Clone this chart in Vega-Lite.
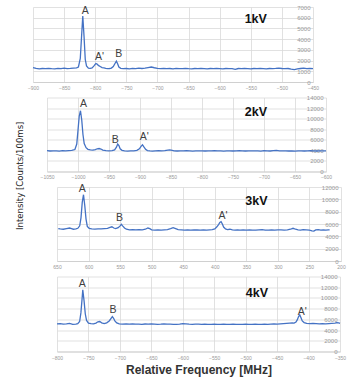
{
"$schema":"https://vega.github.io/schema/vega-lite/v6.json",
"padding":{"left":14,"top":4,"right":2,"bottom":2},
"spacing":4.5,
"title":{"text":"Intensity [Counts/100ms]","orient":"left","anchor":"middle","fontSize":9.5,"font":"Liberation Sans Narrow, DejaVu Sans Condensed, Liberation Sans, sans-serif","fontWeight":"normal","color":"#222222","offset":3,"dx":14},
"config":{"view":{"stroke":null},"axis":{"gridColor":"#d9d9d9","gridWidth":0.8,"labelColor":"#999999","labelFont":"Liberation Sans","domainColor":"#d0d0d0","ticks":false,"tickSize":0,"labelFlush":false,"labelOverlap":false,"format":"d"}},
"datasets":{
"p1":[{"f":-900,"v":1350},{"f":-895,"v":1270},{"f":-890,"v":1230},{"f":-885,"v":1260},{"f":-880,"v":1240},{"f":-875,"v":1280},{"f":-870,"v":1250},{"f":-865,"v":1230},{"f":-860,"v":1270},{"f":-855,"v":1250},{"f":-850,"v":1290},{"f":-845,"v":1250},{"f":-840,"v":1270},{"f":-835,"v":1300},{"f":-830,"v":1320},{"f":-827,"v":1400},{"f":-824,"v":2200},{"f":-822,"v":4200},{"f":-820,"v":6150},{"f":-818,"v":4300},{"f":-816,"v":2100},{"f":-814,"v":1500},{"f":-811,"v":1300},{"f":-808,"v":1280},{"f":-805,"v":1320},{"f":-802,"v":1500},{"f":-799,"v":1720},{"f":-797,"v":1680},{"f":-795,"v":1550},{"f":-792,"v":1450},{"f":-789,"v":1350},{"f":-786,"v":1320},{"f":-783,"v":1280},{"f":-780,"v":1250},{"f":-777,"v":1260},{"f":-774,"v":1300},{"f":-771,"v":1450},{"f":-768,"v":1750},{"f":-766,"v":1950},{"f":-764,"v":1700},{"f":-762,"v":1400},{"f":-759,"v":1280},{"f":-755,"v":1240},{"f":-750,"v":1260},{"f":-745,"v":1230},{"f":-740,"v":1270},{"f":-735,"v":1250},{"f":-730,"v":1290},{"f":-725,"v":1260},{"f":-720,"v":1300},{"f":-715,"v":1350},{"f":-710,"v":1400},{"f":-705,"v":1330},{"f":-700,"v":1270},{"f":-695,"v":1250},{"f":-690,"v":1280},{"f":-685,"v":1240},{"f":-680,"v":1260},{"f":-675,"v":1230},{"f":-670,"v":1270},{"f":-665,"v":1250},{"f":-660,"v":1240},{"f":-655,"v":1280},{"f":-650,"v":1250},{"f":-645,"v":1230},{"f":-640,"v":1260},{"f":-635,"v":1240},{"f":-630,"v":1270},{"f":-625,"v":1250},{"f":-620,"v":1230},{"f":-615,"v":1260},{"f":-610,"v":1240},{"f":-605,"v":1270},{"f":-600,"v":1250},{"f":-595,"v":1230},{"f":-590,"v":1260},{"f":-585,"v":1240},{"f":-580,"v":1250},{"f":-575,"v":1180},{"f":-570,"v":1260},{"f":-565,"v":1240},{"f":-560,"v":1270},{"f":-555,"v":1250},{"f":-550,"v":1230},{"f":-545,"v":1260},{"f":-540,"v":1240},{"f":-535,"v":1270},{"f":-530,"v":1250},{"f":-525,"v":1230},{"f":-520,"v":1260},{"f":-515,"v":1250},{"f":-510,"v":1270},{"f":-505,"v":1300},{"f":-500,"v":1260},{"f":-495,"v":1240},{"f":-490,"v":1260},{"f":-485,"v":1200},{"f":-480,"v":1150},{"f":-475,"v":1230},{"f":-470,"v":1260},{"f":-465,"v":1290},{"f":-460,"v":1250},{"f":-455,"v":1270},{"f":-450,"v":1240}],
"p2":[{"f":-1050,"v":3950},{"f":-1045,"v":3880},{"f":-1040,"v":3920},{"f":-1035,"v":3900},{"f":-1030,"v":3870},{"f":-1025,"v":3930},{"f":-1020,"v":3900},{"f":-1015,"v":3950},{"f":-1010,"v":4000},{"f":-1005,"v":4150},{"f":-1002,"v":5200},{"f":-1000,"v":7800},{"f":-998,"v":10500},{"f":-996,"v":11500},{"f":-994,"v":9800},{"f":-992,"v":7000},{"f":-990,"v":5300},{"f":-987,"v":4500},{"f":-984,"v":4200},{"f":-980,"v":4100},{"f":-976,"v":4050},{"f":-972,"v":4150},{"f":-969,"v":4300},{"f":-966,"v":4350},{"f":-963,"v":4250},{"f":-960,"v":4050},{"f":-955,"v":3950},{"f":-950,"v":3900},{"f":-945,"v":3950},{"f":-941,"v":4100},{"f":-938,"v":4600},{"f":-936,"v":5200},{"f":-934,"v":4900},{"f":-932,"v":4300},{"f":-929,"v":4000},{"f":-925,"v":3900},{"f":-920,"v":3870},{"f":-915,"v":3920},{"f":-910,"v":3900},{"f":-905,"v":4000},{"f":-901,"v":4300},{"f":-898,"v":4800},{"f":-896,"v":5050},{"f":-894,"v":4700},{"f":-891,"v":4200},{"f":-888,"v":3950},{"f":-884,"v":3900},{"f":-880,"v":3870},{"f":-875,"v":3920},{"f":-870,"v":3950},{"f":-865,"v":3900},{"f":-860,"v":3950},{"f":-855,"v":4050},{"f":-852,"v":4100},{"f":-848,"v":4000},{"f":-845,"v":3920},{"f":-840,"v":3880},{"f":-835,"v":3910},{"f":-830,"v":3890},{"f":-825,"v":3930},{"f":-820,"v":3900},{"f":-815,"v":3870},{"f":-810,"v":3920},{"f":-805,"v":3890},{"f":-800,"v":3910},{"f":-795,"v":3880},{"f":-790,"v":3920},{"f":-785,"v":3900},{"f":-780,"v":3930},{"f":-775,"v":3890},{"f":-770,"v":3900},{"f":-765,"v":3870},{"f":-760,"v":3920},{"f":-755,"v":3900},{"f":-750,"v":3880},{"f":-745,"v":3920},{"f":-740,"v":3950},{"f":-735,"v":3900},{"f":-730,"v":3880},{"f":-725,"v":3910},{"f":-720,"v":3890},{"f":-715,"v":3920},{"f":-710,"v":3900},{"f":-705,"v":3870},{"f":-700,"v":3930},{"f":-695,"v":3900},{"f":-690,"v":3880},{"f":-685,"v":3950},{"f":-680,"v":4000},{"f":-675,"v":3920},{"f":-670,"v":3890},{"f":-665,"v":3910},{"f":-660,"v":3880},{"f":-655,"v":3900},{"f":-650,"v":3870},{"f":-645,"v":3920},{"f":-640,"v":3900},{"f":-635,"v":3880},{"f":-630,"v":3910},{"f":-625,"v":3950},{"f":-620,"v":3900},{"f":-615,"v":3880},{"f":-610,"v":3920},{"f":-605,"v":3900},{"f":-600,"v":3890}],
"p3":[{"f":648,"v":5250},{"f":645,"v":5200},{"f":640,"v":5150},{"f":635,"v":5250},{"f":630,"v":5350},{"f":627,"v":5250},{"f":624,"v":5150},{"f":620,"v":5200},{"f":617,"v":5300},{"f":614,"v":5700},{"f":612,"v":7000},{"f":610,"v":9500},{"f":608,"v":10750},{"f":606,"v":9000},{"f":604,"v":6800},{"f":602,"v":5600},{"f":599,"v":5300},{"f":595,"v":5200},{"f":590,"v":5180},{"f":585,"v":5220},{"f":580,"v":5200},{"f":575,"v":5250},{"f":570,"v":5300},{"f":566,"v":5450},{"f":563,"v":5550},{"f":560,"v":5350},{"f":557,"v":5250},{"f":553,"v":5400},{"f":550,"v":5700},{"f":548,"v":5950},{"f":546,"v":5700},{"f":543,"v":5350},{"f":540,"v":5150},{"f":535,"v":5050},{"f":530,"v":5100},{"f":525,"v":5050},{"f":520,"v":5080},{"f":515,"v":5050},{"f":510,"v":5150},{"f":506,"v":5350},{"f":503,"v":5250},{"f":500,"v":5050},{"f":495,"v":5000},{"f":490,"v":5050},{"f":485,"v":5020},{"f":480,"v":5060},{"f":475,"v":5100},{"f":470,"v":5250},{"f":466,"v":5400},{"f":462,"v":5250},{"f":458,"v":5100},{"f":453,"v":5050},{"f":448,"v":5000},{"f":443,"v":5050},{"f":438,"v":5020},{"f":433,"v":5060},{"f":428,"v":5030},{"f":423,"v":5000},{"f":418,"v":5050},{"f":413,"v":5020},{"f":408,"v":5060},{"f":404,"v":5100},{"f":400,"v":5200},{"f":397,"v":5500},{"f":394,"v":5900},{"f":392,"v":6250},{"f":390,"v":6380},{"f":388,"v":6000},{"f":386,"v":5500},{"f":383,"v":5200},{"f":380,"v":5100},{"f":376,"v":5150},{"f":372,"v":5050},{"f":368,"v":5000},{"f":364,"v":5060},{"f":360,"v":5020},{"f":355,"v":5050},{"f":350,"v":5000},{"f":345,"v":5060},{"f":340,"v":5020},{"f":335,"v":5000},{"f":330,"v":5050},{"f":325,"v":5080},{"f":320,"v":5020},{"f":315,"v":5000},{"f":310,"v":5050},{"f":305,"v":5020},{"f":300,"v":5060},{"f":295,"v":5040},{"f":290,"v":5000},{"f":285,"v":5050},{"f":280,"v":5150},{"f":276,"v":5300},{"f":272,"v":5150},{"f":268,"v":5050},{"f":264,"v":5000},{"f":260,"v":5080},{"f":255,"v":5050},{"f":250,"v":5000},{"f":246,"v":4900},{"f":243,"v":4850},{"f":240,"v":5050},{"f":236,"v":5100},{"f":232,"v":5000},{"f":228,"v":5050},{"f":224,"v":5020},{"f":220,"v":5050},{"f":218,"v":5050}],
"p4":[{"f":-800,"v":5150},{"f":-795,"v":5200},{"f":-790,"v":5100},{"f":-785,"v":5150},{"f":-780,"v":5250},{"f":-775,"v":5050},{"f":-770,"v":5100},{"f":-767,"v":5200},{"f":-764,"v":5600},{"f":-762,"v":7200},{"f":-760,"v":10000},{"f":-759,"v":11500},{"f":-757,"v":9500},{"f":-755,"v":7000},{"f":-753,"v":5800},{"f":-750,"v":5300},{"f":-746,"v":5200},{"f":-742,"v":5150},{"f":-738,"v":5300},{"f":-735,"v":5550},{"f":-732,"v":5600},{"f":-729,"v":5350},{"f":-725,"v":5200},{"f":-721,"v":5350},{"f":-717,"v":5700},{"f":-714,"v":6200},{"f":-712,"v":6530},{"f":-710,"v":6200},{"f":-708,"v":5700},{"f":-705,"v":5350},{"f":-701,"v":5150},{"f":-696,"v":5100},{"f":-690,"v":5150},{"f":-685,"v":5100},{"f":-680,"v":5150},{"f":-675,"v":5100},{"f":-670,"v":5120},{"f":-665,"v":5080},{"f":-660,"v":5130},{"f":-655,"v":5100},{"f":-650,"v":5150},{"f":-645,"v":5120},{"f":-640,"v":5080},{"f":-635,"v":5100},{"f":-630,"v":5150},{"f":-625,"v":5100},{"f":-620,"v":5120},{"f":-615,"v":5080},{"f":-610,"v":5050},{"f":-605,"v":5100},{"f":-600,"v":5200},{"f":-595,"v":5150},{"f":-590,"v":5100},{"f":-585,"v":5080},{"f":-580,"v":5120},{"f":-575,"v":5100},{"f":-570,"v":5050},{"f":-565,"v":5100},{"f":-560,"v":5080},{"f":-555,"v":5060},{"f":-550,"v":5100},{"f":-545,"v":5080},{"f":-540,"v":5050},{"f":-535,"v":5100},{"f":-530,"v":5080},{"f":-525,"v":5060},{"f":-520,"v":5100},{"f":-515,"v":5050},{"f":-510,"v":5080},{"f":-505,"v":5060},{"f":-500,"v":5100},{"f":-495,"v":5050},{"f":-490,"v":5080},{"f":-485,"v":5100},{"f":-480,"v":5050},{"f":-475,"v":5080},{"f":-470,"v":5100},{"f":-465,"v":5060},{"f":-460,"v":5100},{"f":-455,"v":5150},{"f":-450,"v":5100},{"f":-445,"v":5150},{"f":-440,"v":5200},{"f":-435,"v":5250},{"f":-430,"v":5300},{"f":-426,"v":5350},{"f":-423,"v":5300},{"f":-420,"v":5500},{"f":-418,"v":5900},{"f":-416,"v":6500},{"f":-414,"v":6850},{"f":-412,"v":6300},{"f":-410,"v":5700},{"f":-407,"v":5400},{"f":-403,"v":5250},{"f":-398,"v":5200},{"f":-393,"v":5250},{"f":-388,"v":5200},{"f":-383,"v":5150},{"f":-378,"v":5200},{"f":-373,"v":5150},{"f":-368,"v":5200},{"f":-363,"v":5250},{"f":-358,"v":5300},{"f":-355,"v":5400},{"f":-352,"v":5350},{"f":-350,"v":5250}],
"l1":[{"t":"A","f":-816,"v":6650},{"t":"A'","f":-793,"v":2350},{"t":"B","f":-762,"v":2650}],
"l2":[{"t":"A","f":-991,"v":12750},{"t":"B","f":-940,"v":6050},{"t":"A'","f":-893,"v":6600}],
"l3":[{"t":"A","f":610,"v":11600},{"t":"B","f":551,"v":6950},{"t":"A'","f":387,"v":7350}],
"l4":[{"t":"A","f":-760,"v":12650},{"t":"B","f":-711,"v":7800},{"t":"A'","f":-410,"v":7350}],
"k1":[{"t":"1kV","f":-542,"v":5900}],
"k2":[{"t":"2kV","f":-713,"v":11350}],
"k3":[{"t":"3kV","f":334,"v":9800}],
"k4":[{"t":"4kV","f":-482,"v":10900}]
},
"vconcat":[
{"width":280,"height":75,"resolve":{"axis":{"x":"independent","y":"independent"}},"layer":[
 {"data":{"name":"p1"},"mark":{"type":"line","color":"#4472C4","strokeWidth":1.3},
  "encoding":{"x":{"field":"f","type":"quantitative","scale":{"domain":[-900,-450],"nice":false,"zero":false},"axis":{"title":null,"values":[-900,-850,-800,-750,-700,-650,-600,-550,-500,-450],"labelFontSize":5,"labelPadding":3,"labelOverlap":false}},
   "y":{"field":"v","type":"quantitative","scale":{"domain":[0,7000],"nice":false},"axis":{"title":null,"orient":"right","values":[0,1000,2000,3000,4000,5000,6000,7000],"labelAlign":"right","labelPadding":-3,"labelFontSize":6,"labelOverlap":false,"domain":false,"minExtent":0,"maxExtent":0}}}},
 {"data":{"name":"l1"},"mark":{"type":"text","fontSize":10.5,"color":"#404040","font":"Liberation Sans"},
  "encoding":{"x":{"field":"f","type":"quantitative","scale":{"domain":[-900,-450],"nice":false,"zero":false},"axis":null},
   "y":{"field":"v","type":"quantitative","scale":{"domain":[0,7000],"nice":false},"axis":null},"text":{"field":"t"}}},
 {"data":{"name":"k1"},"mark":{"type":"text","fontSize":12.5,"fontWeight":"bold","color":"#111111","font":"Liberation Sans"},
  "encoding":{"x":{"field":"f","type":"quantitative","scale":{"domain":[-900,-450],"nice":false,"zero":false},"axis":null},
   "y":{"field":"v","type":"quantitative","scale":{"domain":[0,7000],"nice":false},"axis":null},"text":{"field":"t"}}}
]},
{"bounds":"flush","spacing":0,"hconcat":[
{"width":14,"height":1,"data":{"values":[]},"mark":"point"},
{"width":279,"height":74,"resolve":{"axis":{"x":"independent","y":"independent"}},"layer":[
 {"data":{"name":"p2"},"mark":{"type":"line","color":"#4472C4","strokeWidth":1.3},
  "encoding":{"x":{"field":"f","type":"quantitative","scale":{"domain":[-1050,-600],"nice":false,"zero":false},"axis":{"title":null,"values":[-1050,-1000,-950,-900,-850,-800,-750,-700,-650,-600],"labelFontSize":5,"labelPadding":3,"labelOverlap":false}},
   "y":{"field":"v","type":"quantitative","scale":{"domain":[0,14000],"nice":false},"axis":{"title":null,"orient":"right","values":[0,2000,4000,6000,8000,10000,12000,14000],"labelAlign":"right","labelPadding":-3,"labelFontSize":6,"labelOverlap":false,"domain":false,"minExtent":0,"maxExtent":0}}}},
 {"data":{"name":"l2"},"mark":{"type":"text","fontSize":10.5,"color":"#404040","font":"Liberation Sans"},
  "encoding":{"x":{"field":"f","type":"quantitative","scale":{"domain":[-1050,-600],"nice":false,"zero":false},"axis":null},
   "y":{"field":"v","type":"quantitative","scale":{"domain":[0,14000],"nice":false},"axis":null},"text":{"field":"t"}}},
 {"data":{"name":"k2"},"mark":{"type":"text","fontSize":12.5,"fontWeight":"bold","color":"#111111","font":"Liberation Sans"},
  "encoding":{"x":{"field":"f","type":"quantitative","scale":{"domain":[-1050,-600],"nice":false,"zero":false},"axis":null},
   "y":{"field":"v","type":"quantitative","scale":{"domain":[0,14000],"nice":false},"axis":null},"text":{"field":"t"}}}
]}]},
{"bounds":"flush","spacing":0,"hconcat":[
{"width":24,"height":1,"data":{"values":[]},"mark":"point"},
{"width":284,"height":74,"resolve":{"axis":{"x":"independent","y":"independent"}},"layer":[
 {"data":{"name":"p3"},"mark":{"type":"line","color":"#4472C4","strokeWidth":1.3},
  "encoding":{"x":{"field":"f","type":"quantitative","scale":{"domain":[200,650],"nice":false,"zero":false,"reverse":true},"axis":{"title":null,"values":[650,600,550,500,450,400,350,300,250,200],"labelFontSize":5,"labelPadding":3,"labelOverlap":false}},
   "y":{"field":"v","type":"quantitative","scale":{"domain":[0,12000],"nice":false},"axis":{"title":null,"orient":"right","values":[0,2000,4000,6000,8000,10000,12000],"labelAlign":"right","labelPadding":-3,"labelFontSize":6,"labelOverlap":false,"domain":false,"minExtent":0,"maxExtent":0}}}},
 {"data":{"name":"l3"},"mark":{"type":"text","fontSize":10.5,"color":"#404040","font":"Liberation Sans"},
  "encoding":{"x":{"field":"f","type":"quantitative","scale":{"domain":[200,650],"nice":false,"zero":false,"reverse":true},"axis":null},
   "y":{"field":"v","type":"quantitative","scale":{"domain":[0,12000],"nice":false},"axis":null},"text":{"field":"t"}}},
 {"data":{"name":"k3"},"mark":{"type":"text","fontSize":12.5,"fontWeight":"bold","color":"#111111","font":"Liberation Sans"},
  "encoding":{"x":{"field":"f","type":"quantitative","scale":{"domain":[200,650],"nice":false,"zero":false,"reverse":true},"axis":null},
   "y":{"field":"v","type":"quantitative","scale":{"domain":[0,12000],"nice":false},"axis":null},"text":{"field":"t"}}}
]}]},
{"bounds":"flush","spacing":0,"hconcat":[
{"width":24,"height":1,"data":{"values":[]},"mark":"point"},
{"width":283,"height":75,"resolve":{"axis":{"x":"independent","y":"independent"}},"layer":[
 {"data":{"name":"p4"},"mark":{"type":"line","color":"#4472C4","strokeWidth":1.3},
  "encoding":{"x":{"field":"f","type":"quantitative","scale":{"domain":[-800,-350],"nice":false,"zero":false},"axis":{"title":"Relative Frequency [MHz]","titleFont":"Liberation Sans","titleFontSize":12,"titleFontWeight":"bold","titleColor":"#333333","titlePadding":4,"values":[-800,-750,-700,-650,-600,-550,-500,-450,-400,-350],"labelFontSize":5,"labelPadding":4,"labelOverlap":false}},
   "y":{"field":"v","type":"quantitative","scale":{"domain":[0,14000],"nice":false},"axis":{"title":null,"orient":"right","values":[0,2000,4000,6000,8000,10000,12000,14000],"labelAlign":"right","labelPadding":-3,"labelFontSize":6,"labelOverlap":false,"domain":false,"minExtent":0,"maxExtent":0}}}},
 {"data":{"name":"l4"},"mark":{"type":"text","fontSize":10.5,"color":"#404040","font":"Liberation Sans"},
  "encoding":{"x":{"field":"f","type":"quantitative","scale":{"domain":[-800,-350],"nice":false,"zero":false},"axis":null},
   "y":{"field":"v","type":"quantitative","scale":{"domain":[0,14000],"nice":false},"axis":null},"text":{"field":"t"}}},
 {"data":{"name":"k4"},"mark":{"type":"text","fontSize":12.5,"fontWeight":"bold","color":"#111111","font":"Liberation Sans"},
  "encoding":{"x":{"field":"f","type":"quantitative","scale":{"domain":[-800,-350],"nice":false,"zero":false},"axis":null},
   "y":{"field":"v","type":"quantitative","scale":{"domain":[0,14000],"nice":false},"axis":null},"text":{"field":"t"}}}
]}]}
]
}
